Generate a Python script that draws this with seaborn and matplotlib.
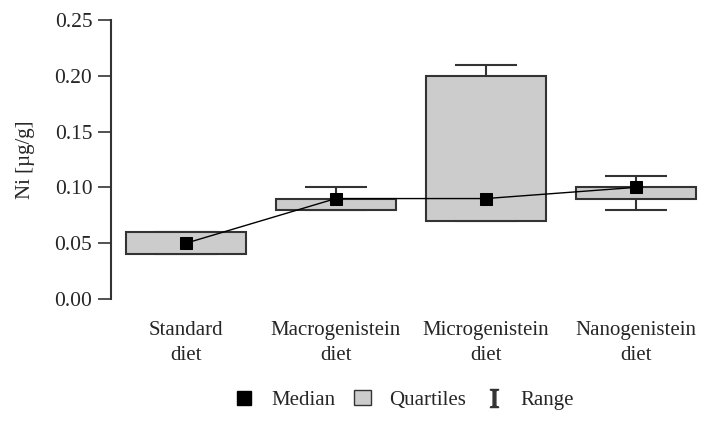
import numpy as np
import pandas as pd
import seaborn as sns
import matplotlib.pyplot as plt
from matplotlib.lines import Line2D
from matplotlib.patches import Patch

categories = ['Standard\ndiet', 'Macrogenistein\ndiet', 'Microgenistein\ndiet', 'Nanogenistein\ndiet']
q1 = [0.04, 0.08, 0.07, 0.09]
q3 = [0.06, 0.09, 0.20, 0.10]
medians = [0.05, 0.09, 0.09, 0.10]
range_min = [0.04, 0.08, 0.07, 0.08]
range_max = [0.06, 0.10, 0.21, 0.11]

sns.set_style('white')
plt.rcParams['font.family'] = ['Liberation Serif', 'DejaVu Serif']
plt.rcParams['mathtext.fontset'] = 'stix'

df = pd.DataFrame({'group': categories, 'q1': q1, 'q3': q3, 'median': medians,
                   'lo': range_min, 'hi': range_max})
df['iqr'] = df['q3'] - df['q1']

fig = plt.figure(figsize=(7.03, 4.21), dpi=100)
ax = fig.add_axes([111 / 703, 122 / 421, 1 - 111 / 703, 279 / 421])

pos = np.arange(len(categories))
# range whiskers (drawn under the boxes)
ax.errorbar(pos, df['median'], yerr=[df['median'] - df['lo'], df['hi'] - df['median']],
            fmt='none', ecolor='#333333', elinewidth=1.5, capsize=22, capthick=1.5, zorder=1)

sns.barplot(data=df, x='group', y='iqr', bottom=df['q1'], color='#cccccc',
            edgecolor='#333333', linewidth=1.5, width=0.8, saturation=1, ax=ax, zorder=2)

sns.pointplot(data=df, x='group', y='median', color='black', marker='s', markersize=8.5,
              linewidth=1, ax=ax, zorder=3)

ax.set_xlim(-0.5, 3.45)
ax.set_ylim(0, 0.25)
ax.set_yticks([0, 0.05, 0.10, 0.15, 0.20, 0.25])
ax.set_yticklabels(['0.00', '0.05', '0.10', '0.15', '0.20', '0.25'])
ax.tick_params(axis='y', left=True, length=9.5, width=1.2, color='#333333', labelsize=15.5, pad=4)
ax.tick_params(axis='x', bottom=False, labelsize=15, pad=12)
for lbl in ax.get_xticklabels():
    lbl.set_linespacing(1.45)
ax.set_xlabel('')
ax.set_ylabel('Ni [µg/g]', fontsize=15, labelpad=14)

sns.despine(ax=ax, bottom=True)
ax.spines['left'].set_color('#333333')
ax.spines['left'].set_linewidth(1.5)
ax.spines['left'].set_bounds(0, 0.25)

handles = [
    Line2D([], [], linestyle='none', marker='s', color='black', markersize=10),
    Patch(facecolor='#cccccc', edgecolor='#333333', linewidth=1),
    Line2D([], [], linestyle='none', marker=r'$\mathrm{I}$', color='#333333', markersize=13),
]
fig.legend(handles, ['Median', 'Quartiles', 'Range'], loc='center', ncol=3,
           bbox_to_anchor=(405 / 703, 21 / 421), frameon=False, fontsize=15,
           handlelength=0.8, handletextpad=0.9, columnspacing=0.9)

fig.savefig('out.png', dpi=100)
